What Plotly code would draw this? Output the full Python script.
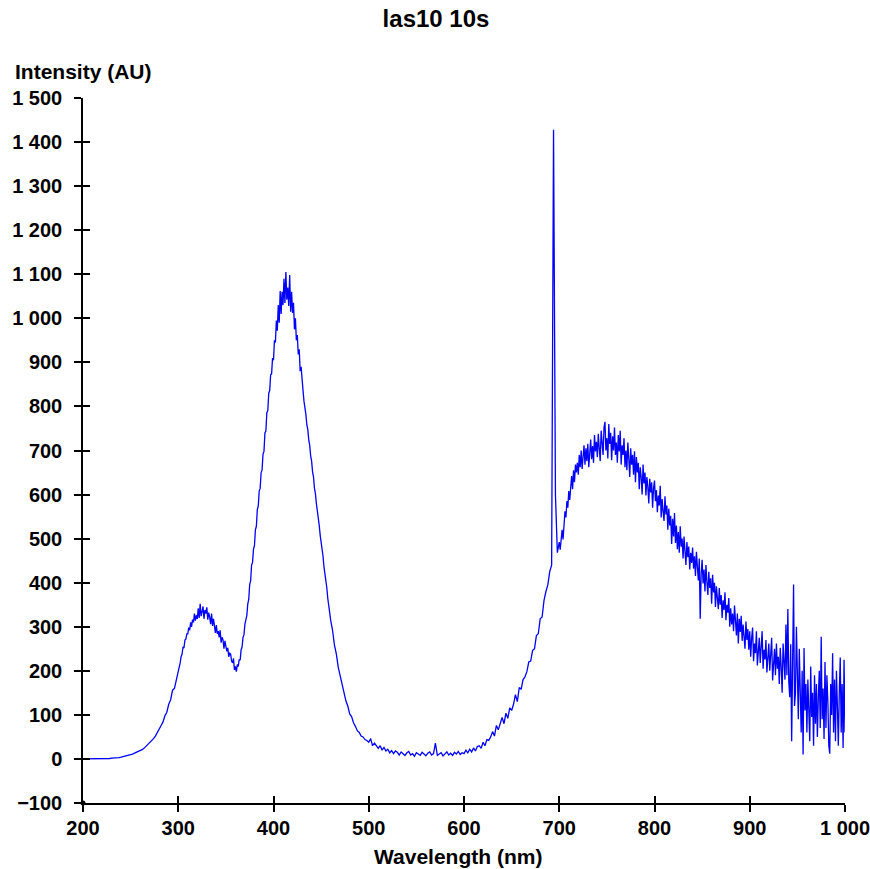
import plotly.graph_objects as go

# Sampling grids (nm): blocks with their own start, stop and step
grid_a = (200, 298, 2)
grid_b = (300, 459, 1)
grid_c = (460, 698, 2)
grid_d = (700, 1000, 1)

# Intensity (AU)
int_200_298 = [0, 0, 0, 0, 0, 0, 0, 0, 0, 0,
               0, 1, 1, 1, 1, 2, 2, 2, 3, 3,
               4, 5, 6, 7, 8, 10, 11, 13, 15, 16,
               18, 21, 24, 28, 32, 36, 41, 46, 52, 59,
               66, 76, 84, 98, 106, 124, 134, 156, 160, 178]
int_300_459 = [196, 212, 218, 232, 238, 254, 252, 270, 272, 284,
               284, 298, 292, 310, 300, 316, 310, 330, 314, 326,
               318, 342, 320, 352, 324, 334, 346, 318, 338, 330,
               344, 316, 332, 322, 306, 330, 302, 318, 298, 286,
               304, 284, 290, 276, 292, 264, 276, 270, 250, 268,
               256, 244, 252, 232, 240, 238, 222, 218, 228, 202,
               210, 198, 214, 210, 226, 224, 248, 254, 276, 282,
               306, 318, 326, 352, 362, 396, 404, 440, 446, 476,
               484, 520, 528, 566, 574, 608, 614, 650, 656, 692,
               698, 740, 744, 786, 790, 830, 836, 872, 874, 910,
               905, 950, 945, 995, 972, 1030, 990, 1062, 1010, 1060,
               1030, 1090, 1035, 1105, 1042, 1070, 1028, 1098, 1015, 1060,
               1012, 1035, 975, 1000, 950, 962, 918, 930, 880, 890,
               846, 836, 812, 800, 782, 758, 748, 724, 712, 688,
               676, 652, 640, 614, 602, 580, 566, 542, 530, 508,
               494, 470, 460, 436, 422, 400, 388, 364, 352, 332]
int_460_498 = [315, 292, 258, 238, 208, 190, 166, 152, 132, 120,
               102, 96, 82, 74, 64, 60, 52, 50, 44, 42]
int_500_598 = [38, 46, 30, 36, 31, 24, 30, 20, 26, 18,
               22, 14, 19, 12, 18, 15, 9, 16, 12, 8,
               14, 17, 9, 12, 6, 14, 11, 8, 15, 10,
               7, 13, 16, 9, 12, 36, 8, 11, 14, 7,
               12, 16, 9, 13, 8, 15, 11, 17, 10, 14]
int_600_698 = [12, 20, 14, 22, 16, 25, 18, 28, 30, 24,
               38, 30, 44, 42, 50, 62, 52, 76, 66, 80,
               94, 80, 104, 92, 116, 110, 124, 146, 130, 162,
               158, 180, 186, 198, 220, 222, 246, 250, 280, 284,
               318, 322, 360, 380, 395, 425, 440, 1428, 600, 468]
int_700_799 = [492, 475, 505, 520, 498, 540, 562, 548, 585, 570,
               608, 588, 630, 642, 612, 655, 628, 668, 650, 672,
               645, 690, 662, 700, 658, 682, 712, 668, 705, 676,
               715, 662, 698, 725, 680, 710, 672, 735, 698, 720,
               685, 738, 705, 676, 745, 712, 690, 752, 765, 700,
               728, 682, 760, 715, 740, 678, 732, 700, 752, 690,
               718, 672, 735, 698, 745, 668, 712, 690, 728, 662,
               700, 655, 718, 682, 640, 705, 668, 690, 645, 698,
               628, 685, 650, 672, 612, 662, 640, 600, 668, 625,
               650, 598, 640, 618, 580, 636, 605, 628, 570, 615]
int_800_899 = [632, 585, 610, 560, 598, 575, 620, 548, 590, 562,
               540, 596, 555, 575, 520, 568, 530, 552, 488, 545,
               505, 558, 490, 530, 476, 515, 468, 528, 482, 500,
               455, 505, 470, 440, 492, 458, 482, 430, 468, 445,
               480, 432, 460, 415, 470, 438, 405, 455, 318, 420,
               452, 398, 430, 380, 440, 402, 372, 425, 388, 410,
               352, 418, 378, 400, 345, 392, 362, 340, 388, 350,
               372, 320, 360, 338, 378, 315, 350, 332, 365, 300,
               342, 305, 330, 290, 348, 312, 280, 330, 262, 318,
               288, 325, 268, 305, 276, 250, 312, 270, 295, 248]
int_900_1000 = [290, 232, 275, 298, 222, 262, 240, 290, 212, 255,
                275, 218, 258, 290, 205, 248, 226, 270, 196, 242,
                262, 200, 235, 275, 178, 228, 250, 190, 262, 205,
                232, 170, 252, 210, 150, 262, 225, 180, 305, 190,
                340, 175, 140, 260, 40, 230, 396, 120, 150, 300,
                210, 90, 250, 160, 60, 200, 10, 252, 110, 170,
                60, 180, 120, 40, 210, 95, 150, 30, 190, 80,
                170, 50, 140, 200, 70, 277, 90, 160, 45, 220,
                70, 190, 130, 30, 12, 170, 100, 240, 60, 180,
                40, 200, 120, 30, 150, 230, 60, 170, 25, 225,
                60]

# Axis ranges and ticks
x_range = [200, 1000]
y_range = [-100, 1500]
tick_step = 100


def grid(g):
    start, stop, step = g
    return list(range(start, stop + 1, step))


wavelength = grid(grid_a) + grid(grid_b) + grid(grid_c) + grid(grid_d)
intensity = (int_200_298 + int_300_459 + int_460_498 + int_500_598 +
             int_600_698 + int_700_799 + int_800_899 + int_900_1000)

FONT = "Liberation Sans, Arial, sans-serif"
W, H = 870, 869
L, T, R, B = 83, 98, 25, 66
PW, PH = W - L - R, H - T - B

fig = go.Figure()
fig.add_trace(go.Scatter(x=wavelength, y=intensity, mode="lines",
                         line=dict(color="#0000FF", width=1.3),
                         hoverinfo="skip"))
# origin dot on the overlay axes (also makes the overlay axes exist)
fig.add_trace(go.Scatter(x=[x_range[0]], y=[y_range[0]], mode="markers",
                         marker=dict(color="black", size=5),
                         xaxis="x2", yaxis="y2", cliponaxis=False,
                         hoverinfo="skip"))

tickfont = dict(family=FONT, size=20, color="black", weight="bold")
common = dict(showgrid=False, zeroline=False, dtick=tick_step,
              tickcolor="black", tickwidth=1.5, ticklen=7, automargin=False)

fig.update_layout(
    width=W, height=H,
    margin=dict(l=L, r=R, t=T, b=B, pad=0, autoexpand=False),
    paper_bgcolor="white", plot_bgcolor="white",
    showlegend=False,
    separators=". ",
    title=dict(text="las10 10s", x=436 / W, xanchor="center",
               y=1 - 19 / H, yanchor="middle",
               font=dict(family=FONT, size=24, color="black", weight="bold")),
    xaxis=dict(range=x_range, tick0=x_range[0], ticks="outside",
               showline=True, linecolor="black", linewidth=1.5,
               tickformat=",d", tickfont=tickfont, ticklabelstandoff=-1,
               ticklabeloverflow="allow", **common),
    yaxis=dict(range=y_range, tick0=y_range[0], ticks="outside",
               showline=True, linecolor="black", linewidth=1.5,
               tickformat=",d", tickfont=tickfont, ticklabelstandoff=8,
               **common),
    xaxis2=dict(range=x_range, tick0=x_range[0], ticks="inside",
                overlaying="x", anchor="y2", side="bottom",
                showticklabels=False, showline=False, **common),
    yaxis2=dict(range=y_range, tick0=y_range[0], ticks="inside",
                overlaying="y", anchor="x2", side="left",
                showticklabels=False, showline=False, **common),
    annotations=[
        dict(text="Intensity (AU)", xref="paper", yref="paper",
             x=(13 - L) / PW, y=(H - B - 72) / PH,
             xanchor="left", yanchor="middle", showarrow=False,
             font=dict(family=FONT, size=21, color="black", weight="bold")),
        dict(text="Wavelength (nm)", xref="paper", yref="paper",
             x=(457.5 - L) / PW, y=(H - B - 857) / PH,
             xanchor="center", yanchor="middle", showarrow=False,
             font=dict(family=FONT, size=21, color="black", weight="bold")),
    ],
)

# remove the page's default 8 px body margin so the figure fills the window
fig.write_html("out.html",
               config={"displayModeBar": False},
               post_script="document.body.style.margin='0px';"
                           "document.body.style.overflow='hidden';")
